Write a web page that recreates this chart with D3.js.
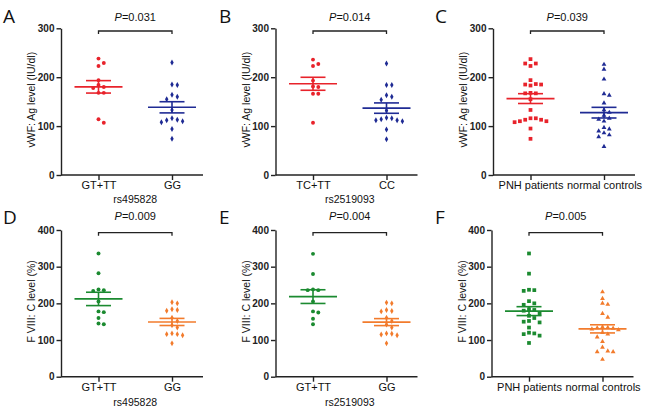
<!DOCTYPE html>
<html>
<head>
<meta charset="utf-8">
<script src="https://cdn.jsdelivr.net/npm/d3@7"></script>
<style>
  body { margin: 0; background: #fff; }
  svg { display: block; font-family: "Liberation Sans", Arial, sans-serif; }
</style>
</head>
<body>
<div class="canvas"></div>
<script>
// values (one array per group)
const vwfRs495828GT = [238, 229, 223, 194, 184, 180, 178, 168, 168, 114, 107];
const vwfRs495828GG = [230, 185, 184, 164, 160, 155, 133, 116, 113, 110, 108, 112, 94, 74];
const vwfRs2519093TC = [236, 227, 223, 193, 181, 180, 166, 166, 107];
const vwfRs2519093CC = [228, 184, 184, 163, 160, 154, 132, 117, 114, 112, 110, 112, 116, 93, 73];
const vwfPNH = [237, 228, 228, 223, 194, 186, 185, 185, 183, 168, 167, 167, 155, 133, 116, 116, 113, 113, 110, 110, 108, 95, 74];
const vwfControls = [226, 216, 196, 166, 163, 147, 133, 128, 122, 116, 114, 110, 97, 94, 90, 86, 82, 78, 58];
const f8Rs495828GT = [336, 282, 238, 236, 234, 205, 178, 176, 160, 145, 143];
const f8Rs495828GG = [203, 200, 184, 182, 180, 161, 152, 140, 134, 118, 116, 116, 113, 91];
const f8Rs2519093GT = [335, 280, 238, 236, 236, 205, 178, 175, 158, 143];
const f8Rs2519093GG = [202, 200, 182, 179, 178, 161, 152, 142, 134, 118, 117, 115, 113, 91];
const f8PNH = [336, 281, 237, 236, 234, 206, 200, 196, 182, 180, 184, 172, 166, 160, 152, 150, 148, 134, 120, 118, 116, 112, 92];
const f8Controls = [231, 213, 200, 197, 172, 162, 135, 134, 133, 132, 130, 128, 120, 116, 108, 96, 80, 70, 68, 68, 47];

const letters = ["A", "B", "C", "D", "E", "F"];
const pValues = ["0.031", "0.014", "0.039", "0.009", "0.004", "0.005"];
const snpTitles = ["rs495828", "rs2519093", "", "rs495828", "rs2519093", ""];
const categories = [
  ["GT+TT", "GG"], ["TC+TT", "CC"], ["PNH patients", "normal controls"],
  ["GT+TT", "GG"], ["GT+TT", "GG"], ["PNH patients", "normal controls"]
];
const yLabels = ["vWF: Ag level (IU/dl)", "F VIII: C level (%)"];
const yTicksTop = [0, 100, 200, 300];
const yTicksBottom = [0, 100, 200, 300, 400];

const red = "#e8232b", blue = "#1f2b94", green = "#1b8a30", orange = "#f27b2c";
const font = "'Liberation Sans', Arial, sans-serif";

const svg = d3.select(".canvas")
              .append("svg")
              .attr("width", 648)
              .attr("height", 408);

// two rows of three panels
const rows = [
  {top: 28.3, bottom: 175, max: 300, ticks: yTicksTop, label: yLabels[0], pY: 20.5, letterY: 23.3, tickY: 188.5, titleY: 203},
  {top: 230, bottom: 376.7, max: 400, ticks: yTicksBottom, label: yLabels[1], pY: 220, letterY: 224, tickY: 391, titleY: 406}
];

const panels = [
  {groups: [vwfRs495828GT, vwfRs495828GG], colors: [red, blue], shapes: ["circle", "diamond"], axisX: 61},
  {groups: [vwfRs2519093TC, vwfRs2519093CC], colors: [red, blue], shapes: ["circle", "diamond"], axisX: 216 + 59.5},
  {groups: [vwfPNH, vwfControls], colors: [red, blue], shapes: ["square", "triangle"], axisX: 432 + 61},
  {groups: [f8Rs495828GT, f8Rs495828GG], colors: [green, orange], shapes: ["circle", "diamond"], axisX: 61},
  {groups: [f8Rs2519093GT, f8Rs2519093GG], colors: [green, orange], shapes: ["circle", "diamond"], axisX: 216 + 59.5},
  {groups: [f8PNH, f8Controls], colors: [green, orange], shapes: ["square", "triangle"], axisX: 432 + 59.5}
];

const symbolFor = {
  circle: d3.symbol().type(d3.symbolCircle).size(12),
  diamond: d3.symbol().type(d3.symbolDiamond).size(10),
  square: d3.symbol().type(d3.symbolSquare).size(14),
  triangle: d3.symbol().type(d3.symbolTriangle).size(10)
};

// simple greedy swarm: same slot only if far enough apart vertically
function swarm(values, y, step) {
  const placed = [];
  const order = values.map((v, i) => i).sort((a, b) => values[b] - values[a]);
  const slots = [0, 1, -1, 2, -2, 3, -3, 4, -4];
  order.forEach(i => {
    const py = y(values[i]);
    const k = slots.find(s => !placed.some(p => p.k === s && Math.abs(p.y - py) < 4.6));
    placed.push({v: values[i], y: py, k: k, dx: k * step});
  });
  return placed;
}

panels.forEach((pn, idx) => {
  const row = rows[Math.floor(idx / 3)];
  const panelX = (idx % 3) * 216;
  const g = svg.append("g");

  const y = d3.scaleLinear().domain([0, row.max]).range([row.bottom, row.top]);
  const x = d3.scalePoint()
              .domain(categories[idx])
              .range([pn.axisX + 37.5, pn.axisX + 111]);

  // axes
  const yAxis = g.append("g")
                 .attr("transform", `translate(${pn.axisX},0)`)
                 .call(d3.axisLeft(y).tickValues(row.ticks).tickSize(4.5).tickPadding(2).tickSizeOuter(0))
                 .attr("font-family", font);
  yAxis.selectAll("text").attr("font-size", 10).attr("font-weight", "bold").attr("fill", "#222");

  const xAxis = g.append("g")
                 .attr("transform", `translate(0,${row.bottom})`)
                 .call(d3.axisBottom(x).tickSize(5).tickSizeOuter(0))
                 .attr("font-family", font);
  xAxis.select(".domain").attr("d", `M${pn.axisX},0H${pn.axisX + 142}`);
  xAxis.selectAll("text")
       .attr("font-size", 11).attr("fill", "#111")
       .attr("dy", null).attr("y", row.tickY - row.bottom);

  g.selectAll(".domain, .tick line").attr("stroke", "#222").attr("stroke-width", 1.4);

  // y label
  g.append("text")
   .attr("transform", `translate(${pn.axisX - 26},${(row.top + row.bottom) / 2 - 2}) rotate(-90)`)
   .attr("text-anchor", "middle")
   .attr("font-size", 10.5)
   .attr("fill", "#111")
   .text(row.label);

  // snp label under the axis
  if (snpTitles[idx]) {
    g.append("text")
     .attr("x", (x.range()[0] + x.range()[1]) / 2)
     .attr("y", row.titleY)
     .attr("text-anchor", "middle")
     .attr("font-size", 10.5)
     .attr("fill", "#111")
     .text(snpTitles[idx]);
  }

  // panel letter
  g.append("text")
   .attr("x", panelX + 3)
   .attr("y", row.letterY)
   .attr("font-family", "'Open Sans', sans-serif")
   .attr("font-weight", 400)
   .attr("font-size", 19)
   .attr("fill", "#111")
   .text(letters[idx]);

  // significance bracket + P value
  const x1 = x(categories[idx][0]), x2 = x(categories[idx][1]);
  const by = row.top + 2.7;
  g.append("path")
   .attr("d", `M${x1},${by + 3}V${by}H${x2}V${by + 3}`)
   .attr("fill", "none")
   .attr("stroke", "#222")
   .attr("stroke-width", 1.3);
  const pt = g.append("text")
              .attr("x", (x1 + x2) / 2)
              .attr("y", row.pY)
              .attr("text-anchor", "middle")
              .attr("font-size", 11)
              .attr("fill", "#111");
  pt.append("tspan").attr("font-style", "italic").text("P");
  pt.append("tspan").text("=" + pValues[idx]);

  // points, mean and SEM for each group
  pn.groups.forEach((vals, gi) => {
    const cx = x(categories[idx][gi]);
    const col = pn.colors[gi];
    const pts = swarm(vals, y, 5.3);

    g.append("g").selectAll("path")
     .data(pts)
     .enter()
     .append("path")
     .attr("d", symbolFor[pn.shapes[gi]])
     .attr("transform", d => `translate(${cx + d.dx},${d.y})`)
     .attr("fill", col);

    const mean = d3.mean(vals);
    const sem = d3.deviation(vals) / Math.sqrt(vals.length);
    const lines = [
      {x1: cx - 24, x2: cx + 24, y1: y(mean), y2: y(mean)},
      {x1: cx - 12.5, x2: cx + 12.5, y1: y(mean + sem), y2: y(mean + sem)},
      {x1: cx - 12.5, x2: cx + 12.5, y1: y(mean - sem), y2: y(mean - sem)},
      {x1: cx, x2: cx, y1: y(mean + sem), y2: y(mean - sem)}
    ];
    g.append("g").selectAll("line")
     .data(lines)
     .enter()
     .append("line")
     .attr("x1", d => d.x1).attr("x2", d => d.x2)
     .attr("y1", d => d.y1).attr("y2", d => d.y2)
     .attr("stroke", col)
     .attr("stroke-width", 1.6);
  });
});
</script>
</body>
</html>
